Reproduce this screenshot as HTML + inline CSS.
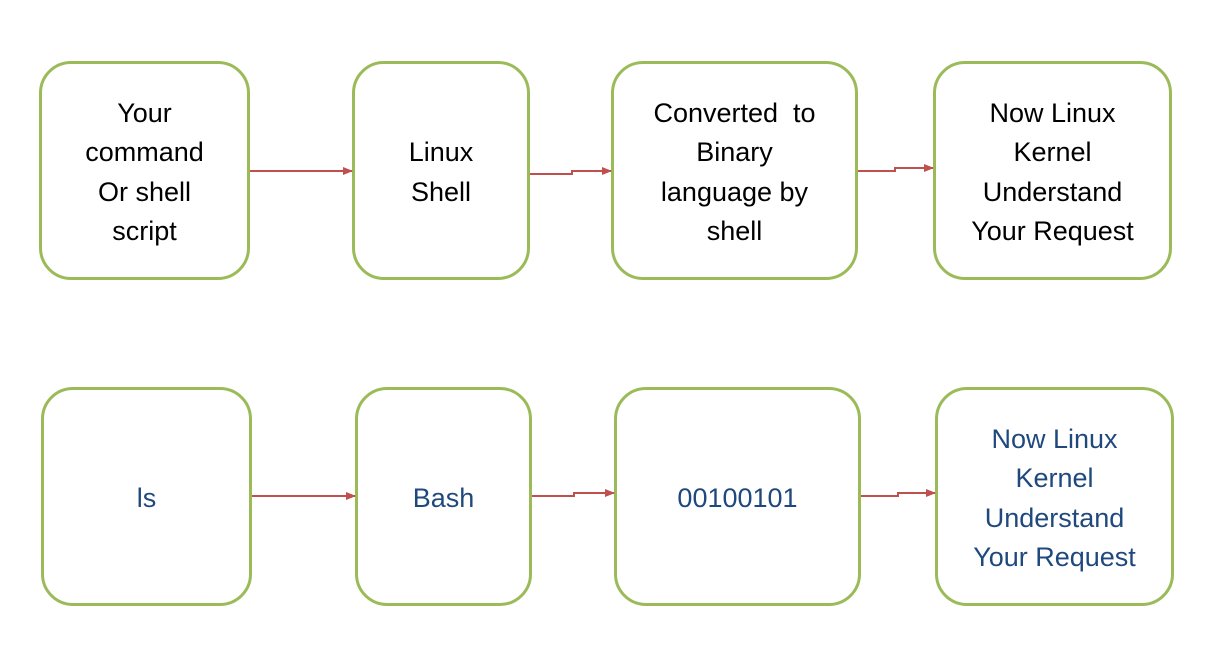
<!DOCTYPE html>
<html><head><style>
body{margin:0;width:1229px;height:647px;background:#fff;position:relative;overflow:hidden;font-family:"Liberation Sans",sans-serif}
.b{position:absolute;box-sizing:border-box;border:3px solid #9bbb59;border-radius:32px;display:flex;align-items:center;justify-content:center;text-align:center;font-size:27px;line-height:39.5px;color:#000;padding-top:4px}
.blue{color:#1f497d}
svg{position:absolute;left:0;top:0}
</style></head><body>
<div class="b" style="left:39px;top:61px;width:211px;height:219px">Your<br>command<br>Or shell<br>script</div>
<div class="b" style="left:352px;top:61px;width:178px;height:219px">Linux<br>Shell</div>
<div class="b" style="left:611px;top:61px;width:247px;height:219px">Converted&nbsp; to<br>Binary<br>language by<br>shell</div>
<div class="b" style="left:933px;top:61px;width:239px;height:219px">Now Linux<br>Kernel<br>Understand<br>Your Request</div>
<div class="b blue" style="left:41px;top:387px;width:211px;height:219px">ls</div>
<div class="b blue" style="left:355px;top:387px;width:177px;height:219px">Bash</div>
<div class="b blue" style="left:614px;top:387px;width:247px;height:219px">00100101</div>
<div class="b blue" style="left:935px;top:387px;width:239px;height:219px">Now Linux<br>Kernel<br>Understand<br>Your Request</div>
<svg width="1229" height="647">
<defs><marker id="a" markerWidth="10" markerHeight="8" refX="9" refY="4" orient="auto" markerUnits="userSpaceOnUse"><path d="M0,0L10,4L0,8z" fill="#c0504d"/></marker></defs>
<g stroke="#c0504d" stroke-width="2" fill="none" marker-end="url(#a)">
<path d="M250,171H352"/>
<path d="M530,174H572V171H611"/>
<path d="M858,171H895V168H933"/>
<path d="M252,496H355"/>
<path d="M532,496H574V493H614"/>
<path d="M861,496H898V493H935"/>
</g></svg>
</body></html>
